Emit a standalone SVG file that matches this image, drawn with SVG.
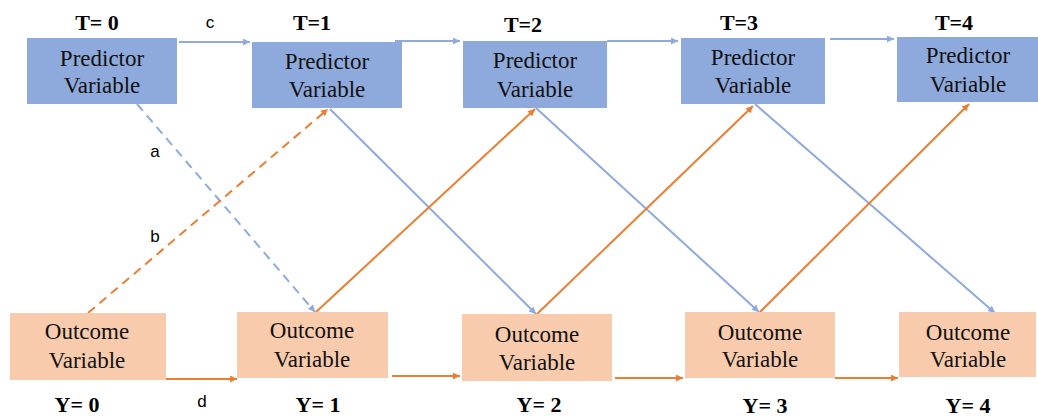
<svg xmlns="http://www.w3.org/2000/svg" width="1038" height="416" viewBox="0 0 1038 416">
<defs>
<marker id="ab" viewBox="0 0 10 10" refX="10" refY="5" markerWidth="8" markerHeight="7" markerUnits="userSpaceOnUse" orient="auto"><path d="M0,0 L10,5 L0,10 z" fill="#8FAADC"/></marker>
<marker id="ao" viewBox="0 0 10 10" refX="10" refY="5" markerWidth="8" markerHeight="7" markerUnits="userSpaceOnUse" orient="auto"><path d="M0,0 L10,5 L0,10 z" fill="#ED7D31"/></marker>
<style>
.p{fill:#8EA9DB}
.o{fill:#F8CBAD}
.nt{font-family:'Liberation Serif','Times New Roman','DejaVu Serif',serif;font-size:23px;fill:#111;text-anchor:middle}
.tl{font-family:'Liberation Serif','Times New Roman',serif;font-size:22px;font-weight:bold;fill:#000;text-anchor:middle}
.ll{font-family:'Liberation Sans',Arial,sans-serif;font-size:17px;fill:#000;text-anchor:middle}
.b{stroke:#8FAADC;stroke-width:2;fill:none}
.or{stroke:#ED7D31;stroke-width:2;fill:none}
.d{stroke-dasharray:9,6}
</style>
</defs>
<rect width="1038" height="416" fill="#fff"/>
<g id="connectors">
<line class="b" x1="179" y1="42" x2="250" y2="42" marker-end="url(#ab)"/>
<line class="b" x1="395" y1="41" x2="460" y2="41" marker-end="url(#ab)"/>
<line class="b" x1="607" y1="41" x2="678" y2="41" marker-end="url(#ab)"/>
<line class="b" x1="830" y1="39" x2="894" y2="39" marker-end="url(#ab)"/>
<line class="or" x1="166" y1="379" x2="237" y2="379" marker-end="url(#ao)"/>
<line class="or" x1="392" y1="376" x2="460" y2="376" marker-end="url(#ao)"/>
<line class="or" x1="615" y1="378" x2="683" y2="378" marker-end="url(#ao)"/>
<line class="or" x1="835" y1="378" x2="898" y2="378" marker-end="url(#ao)"/>
<line class="b d" x1="137" y1="104" x2="315" y2="312" marker-end="url(#ab)"/>
<line class="b" x1="330" y1="109" x2="536" y2="314" marker-end="url(#ab)"/>
<line class="b" x1="536" y1="108" x2="759" y2="312" marker-end="url(#ab)"/>
<line class="b" x1="755" y1="104" x2="995" y2="313" marker-end="url(#ab)"/>
<line class="or d" x1="88" y1="313" x2="328" y2="109" marker-end="url(#ao)"/>
<line class="or" x1="316" y1="312" x2="535" y2="109" marker-end="url(#ao)"/>
<line class="or" x1="537" y1="314" x2="753" y2="106" marker-end="url(#ao)"/>
<line class="or" x1="760" y1="312" x2="969" y2="104" marker-end="url(#ao)"/>
<text class="ll" x="210" y="28">c</text>
<text class="ll" x="155" y="157">a</text>
<text class="ll" x="155" y="242">b</text>
<text class="ll" x="202" y="407">d</text>
</g>
<g id="P0"><rect class="p" x="27" y="38" width="150" height="66"/><text class="nt" x="102" y="66">Predictor</text><text class="nt" x="102" y="93">Variable</text><text class="tl" x="97" y="30">T= 0</text></g>
<g id="P1"><rect class="p" x="252" y="42" width="150" height="66"/><text class="nt" x="327" y="69">Predictor</text><text class="nt" x="327" y="97">Variable</text><text class="tl" x="312" y="30">T=1</text></g>
<g id="P2"><rect class="p" x="463" y="41" width="144" height="67"/><text class="nt" x="535" y="68">Predictor</text><text class="nt" x="535" y="97">Variable</text><text class="tl" x="523" y="32">T=2</text></g>
<g id="P3"><rect class="p" x="681" y="38" width="144" height="66"/><text class="nt" x="753" y="65">Predictor</text><text class="nt" x="753" y="93">Variable</text><text class="tl" x="739" y="30">T=3</text></g>
<g id="P4"><rect class="p" x="897" y="37" width="141" height="65"/><text class="nt" x="968" y="63">Predictor</text><text class="nt" x="968" y="92">Variable</text><text class="tl" x="954" y="30">T=4</text></g>
<g id="O0"><rect class="o" x="10" y="313" width="156" height="67"/><text class="nt" x="87" y="339">Outcome</text><text class="nt" x="87" y="368">Variable</text><text class="tl" x="77" y="412">Y= 0</text></g>
<g id="O1"><rect class="o" x="237" y="312" width="151" height="66"/><text class="nt" x="312" y="338">Outcome</text><text class="nt" x="312" y="367">Variable</text><text class="tl" x="318" y="412">Y= 1</text></g>
<g id="O2"><rect class="o" x="462" y="314" width="150" height="67"/><text class="nt" x="537" y="342">Outcome</text><text class="nt" x="537" y="370">Variable</text><text class="tl" x="539" y="412">Y= 2</text></g>
<g id="O3"><rect class="o" x="685" y="312" width="150" height="66"/><text class="nt" x="760" y="340">Outcome</text><text class="nt" x="760" y="367">Variable</text><text class="tl" x="765" y="413">Y= 3</text></g>
<g id="O4"><rect class="o" x="899" y="312" width="137" height="65"/><text class="nt" x="968" y="340">Outcome</text><text class="nt" x="968" y="367">Variable</text><text class="tl" x="968" y="413">Y= 4</text></g>
</svg>
